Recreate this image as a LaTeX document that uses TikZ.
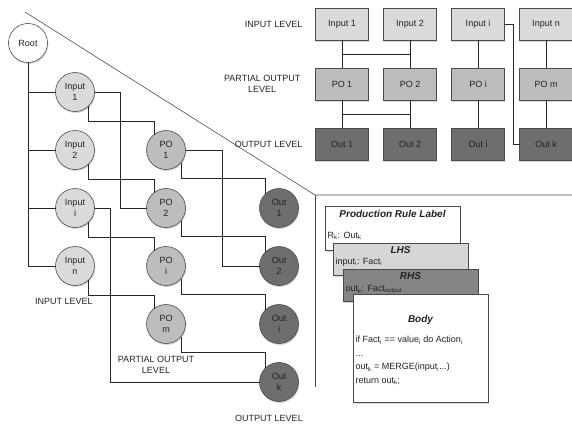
\documentclass[tikz,border=0pt]{standalone}
\usepackage{fontspec}
\setmainfont{Liberation Sans}
\usetikzlibrary{positioning,calc,shadows}
\definecolor{edge}{HTML}{4A4A4A}
\definecolor{ink}{HTML}{222222}
\definecolor{inputfill}{HTML}{DADADA}
\definecolor{pofill}{HTML}{BDBDBD}
\definecolor{outfill}{HTML}{6E6E6E}
\definecolor{lhsfill}{HTML}{D6D6D6}
\definecolor{rhsfill}{HTML}{858585}
\tikzset{
  nodebase/.style={draw=edge,line width=0.6pt,text=ink,outer sep=0pt,
                   font=\fontsize{9}{10.5}\selectfont,
                   drop shadow={opacity=0.3,shadow xshift=0.8pt,shadow yshift=-1.5pt}},
  levelcirc/.style={nodebase,circle,minimum size=39pt,inner sep=0pt,align=center},
  rootcirc/.style={levelcirc,fill=white},
  incirc/.style={levelcirc,fill=inputfill},
  pocirc/.style={levelcirc,fill=pofill},
  outcirc/.style={levelcirc,fill=outfill},
  levelbox/.style={nodebase,rectangle,minimum width=53pt,minimum height=32pt,inner sep=0pt},
  inbox/.style={levelbox,fill=inputfill},
  pobox/.style={levelbox,fill=pofill},
  outbox/.style={levelbox,fill=outfill},
  cardbox/.style={nodebase,rectangle,fill=white,minimum width=135pt,inner sep=0pt,anchor=north west},
  cardtitle/.style={text=ink,inner sep=0pt,font=\fontsize{10}{12}\selectfont\bfseries\itshape},
  cardtext/.style={text=ink,inner sep=0pt,anchor=west,align=left,font=\fontsize{9}{13.5}\selectfont},
  levellabel/.style={text=ink,inner sep=0pt,align=center,font=\fontsize{9}{11}\selectfont},
  link/.style={draw=black!85,line width=0.7pt},
  divider/.style={draw=black!70,line width=0.6pt},
}

\begin{document}
\begin{tikzpicture}[x=1pt,y=-1pt,node distance=19pt]
\useasboundingbox (0,0) rectangle (572,423);

% --- dividers ---
\coordinate (corner) at (315,195);
\draw[divider] (25,12) -- (corner) -- (572,195);
\draw[divider] (corner) -- (315,387);

% --- tree of circles ---
\node[rootcirc] (root) at (28,43) {Root};
\node[incirc] (in1) at (75,92) {Input\\1};
\node[incirc, below=of in1] (in2) {Input\\2};
\node[incirc, below=of in2] (ini) {Input\\i};
\node[incirc, below=of ini] (inn) {Input\\n};

\node[pocirc, right=52pt of in2] (po1) {PO\\1};
\node[pocirc, below=of po1] (po2) {PO\\2};
\node[pocirc, below=of po2] (poi) {PO\\i};
\node[pocirc, below=of poi] (pom) {PO\\m};

\node[outcirc, right=74pt of po2] (out1) {Out\\1};
\node[outcirc, below=of out1] (out2) {Out\\2};
\node[outcirc, below=of out2] (outi) {Out\\i};
\node[outcirc, below=of outi] (outk) {Out\\k};

\draw[link] (root.south) |- (inn.west);
\foreach \n in {in1,in2,ini}
  \draw[link] (root.south |- \n.west) -- (\n.west);
\foreach \a/\b in {in1/po1, in2/po2, ini/poi, inn/pom}
  \draw[link] (\a.-48) -- ++(0,14.5) -| (\b.128);
\foreach \a/\b in {po1/out1, po2/out2, poi/outi, pom/outk}
  \draw[link] (\a.-40) -- ++(0,15.5) -| (\b.134);
\draw[link] (in1.east) -- ++(25.5,0) |- (po2.west);
\draw[link] (ini.east) -- ++(15.5,0) |- (outk.west);
\draw[link] (po1.east) -- ++(37,0) |- (out2.west);

\node[levellabel] (tinlev)  at (64,301)  {INPUT LEVEL};
\node[levellabel] (tpolev)  at (156,365) {PARTIAL OUTPUT\\LEVEL};
\node[levellabel] (toutlev) at (269,418) {OUTPUT LEVEL};

% --- grid of boxes ---
\node[inbox] (ib1) at (342,24) {Input 1};
\node[inbox, right=15pt of ib1] (ib2) {Input 2};
\node[inbox, right=15pt of ib2] (ibi) {Input i};
\node[inbox, right=15pt of ibi] (ibn) {Input n};

\node[pobox, below=28pt of ib1] (pb1) {PO 1};
\node[pobox, below=28pt of ib2] (pb2) {PO 2};
\node[pobox, below=28pt of ibi] (pbi) {PO i};
\node[pobox, below=28pt of ibn] (pbm) {PO m};

\node[outbox, below=28pt of pb1] (ob1) {Out 1};
\node[outbox, below=28pt of pb2] (ob2) {Out 2};
\node[outbox, below=28pt of pbi] (obi) {Out i};
\node[outbox, below=28pt of pbm] (obk) {Out k};

\foreach \a/\b/\c in {ib1/pb1/ob1, ib2/pb2/ob2, ibi/pbi/obi, ibn/pbm/obk}
  \draw[link] (\a) -- (\b) -- (\c);
\draw[link] ($(ib1.south)!0.5!(pb1.north)$) -- ($(ib2.south)!0.5!(pb2.north)$);
\draw[link] ($(pb1.south)!0.5!(ob1.north)$) -- ($(pb2.south)!0.5!(ob2.north)$);
\draw[link] (ibi.east) -- ++(9,0) |- (obk.west);

\node[levellabel, left=13pt of ib1] (ginlev) {INPUT LEVEL};
\node[levellabel, left=15pt of pb1] (gpolev) {PARTIAL OUTPUT\\LEVEL};
\node[levellabel, left=13pt of ob1] (goutlev) {OUTPUT LEVEL};

% --- production rule cards ---
\node[cardbox, minimum height=44pt] (rule) at (325,206) {};
\node[cardtitle] (ruletitle) at ($(rule.north)+(0,8)$) {Production Rule Label};
\node[cardtext] (ruletext) at ($(rule.north west)+(2.5,30)$) {R\textsubscript{k}: Out\textsubscript{k}};

\node[cardbox, fill=lhsfill, minimum height=32pt] (lhs) at (333,243) {};
\node[cardtitle] (lhstitle) at ($(lhs.north)+(0,7)$) {LHS};
\node[cardtext] (lhstext) at ($(lhs.north west)+(2.5,19)$) {input\textsubscript{i}: Fact\textsubscript{i}};

\node[cardbox, fill=rhsfill, minimum height=32pt] (rhs) at (343,269) {};
\node[cardtitle] (rhstitle) at ($(rhs.north)+(0,7)$) {RHS};
\node[cardtext] (rhstext) at ($(rhs.north west)+(2.5,21)$) {out\textsubscript{k}: Fact\textsubscript{output}};

\node[cardbox, minimum height=108pt] (body) at (353,294) {};
\node[cardtitle] (bodytitle) at ($(body.north)+(0,26)$) {Body};
\node[cardtext] (bodytext) at ($(body.north west)+(2.5,66.5)$)
  {if Fact\textsubscript{i} == value\textsubscript{i} do Action\textsubscript{i}\\
   ...\\
   out\textsubscript{k} = MERGE(input\textsubscript{i}...)\\
   return out\textsubscript{k};};

\end{tikzpicture}
\end{document}
